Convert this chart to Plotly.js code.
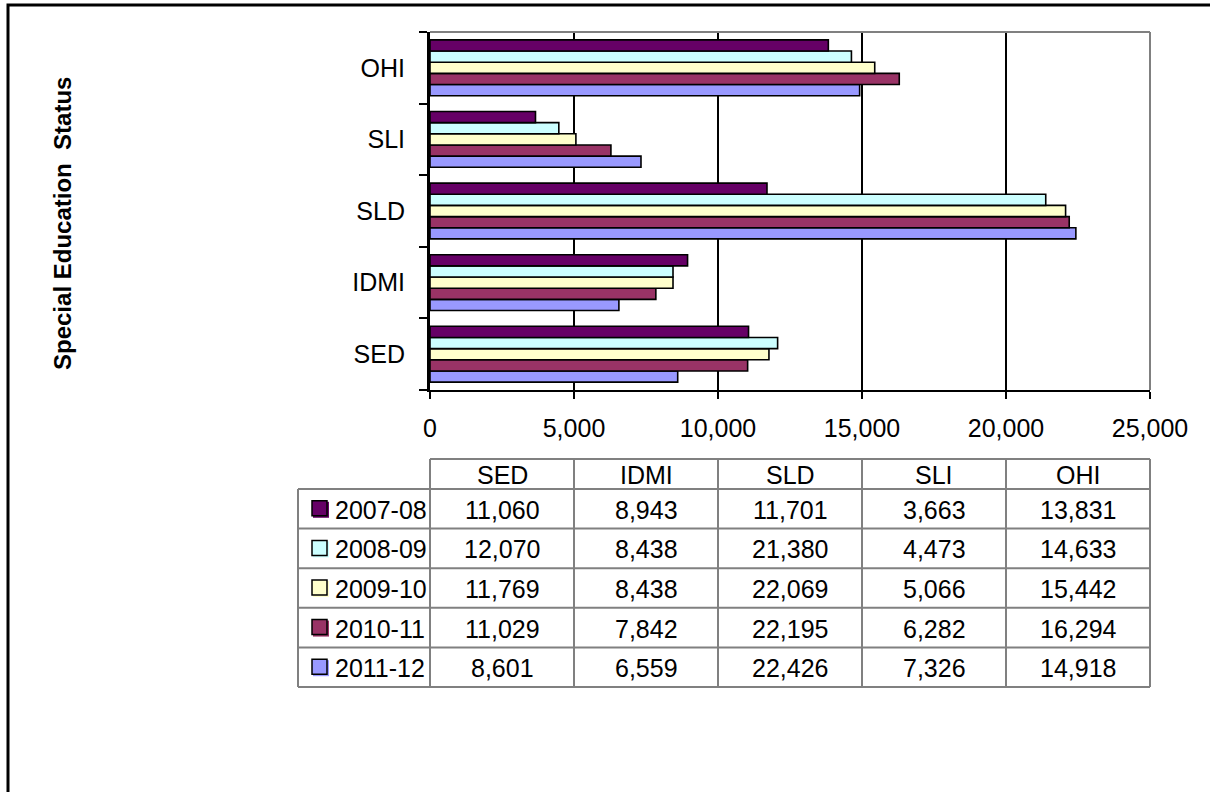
<!DOCTYPE html>
<html>
<head>
<meta charset="utf-8">
<script src="https://cdn.plot.ly/plotly-3.0.1.min.js"></script>
<style>html,body{margin:0;padding:0;background:#fff;}#chart{width:1210px;height:792px;}</style>
</head>
<body>
<div id="chart"></div>
<script>
// ---- data ----
const categories = ['SED', 'IDMI', 'SLD', 'SLI', 'OHI'];
const seriesNames = ['2007-08', '2008-09', '2009-10', '2010-11', '2011-12'];
const values2007 = [11060, 8943, 11701, 3663, 13831];
const values2008 = [12070, 8438, 21380, 4473, 14633];
const values2009 = [11769, 8438, 22069, 5066, 15442];
const values2010 = [11029, 7842, 22195, 6282, 16294];
const values2011 = [8601, 6559, 22426, 7326, 14918];
const seriesColors = ['#660066', '#CCFFFF', '#FFFFCC', '#993366', '#9999FF'];
const xTickValues = [0, 5000, 10000, 15000, 20000, 25000];
const yAxisTitle = 'Special Education  Status';

const seriesValues = [values2007, values2008, values2009, values2010, values2011];

// ---- geometry (pixels) ----
const W = 1210, H = 792;
const plotL = 430, plotR = 1150, plotT = 32, plotB = 390;
const px = x => (x - plotL) / (plotR - plotL);
const py = y => (plotB - y) / (plotB - plotT);
const FONT = 'Liberation Sans, Arial, sans-serif';
const FS = 25;

// traces: plotly stacks horizontal groups bottom-up, so add last series first
const traces = [];
for (let i = seriesNames.length - 1; i >= 0; i--) {
  traces.push({
    type: 'bar', orientation: 'h', name: seriesNames[i],
    y: categories, x: seriesValues[i],
    marker: {color: seriesColors[i], line: {color: '#000', width: 1.6}},
    hoverinfo: 'skip'
  });
}

const shapes = [];
const annotations = [];

// outer chart border (extends past the canvas on right/bottom)
shapes.push({type: 'rect', xref: 'paper', yref: 'paper', x0: px(8), x1: px(1240), y0: py(5), y1: py(830),
  line: {color: '#000', width: 3}, fillcolor: 'rgba(0,0,0,0)', layer: 'above'});
// gray plot-area border top & right
shapes.push({type: 'line', xref: 'paper', yref: 'paper', x0: 0, x1: 1, y0: 1, y1: 1, line: {color: '#808080', width: 2}, layer: 'above'});
shapes.push({type: 'line', xref: 'paper', yref: 'paper', x0: 1, x1: 1, y0: 0, y1: 1, line: {color: '#808080', width: 2}, layer: 'above'});

// data table
const colX = [298, 430, 574, 718, 862, 1006, 1150];
const rowY = [459, 489, 528.6, 568.2, 607.8, 647.4, 687];
const grid = {color: '#808080', width: 2};
for (let r = 0; r < rowY.length; r++) {
  const x0 = r === 0 ? colX[1] : colX[0];
  shapes.push({type: 'line', xref: 'paper', yref: 'paper', x0: px(x0), x1: px(colX[6]), y0: py(rowY[r]), y1: py(rowY[r]), line: grid});
}
for (let c = 0; c < colX.length; c++) {
  const y0 = c === 0 ? rowY[1] : rowY[0];
  shapes.push({type: 'line', xref: 'paper', yref: 'paper', x0: px(colX[c]), x1: px(colX[c]), y0: py(y0), y1: py(rowY[6]), line: grid});
}
for (let c = 0; c < categories.length; c++) {
  annotations.push({xref: 'paper', yref: 'paper', x: px((colX[c + 1] + colX[c + 2]) / 2), y: py((rowY[0] + rowY[1]) / 2 + 1),
    text: categories[c], showarrow: false, xanchor: 'center', yanchor: 'middle', font: {family: FONT, size: FS, color: '#000'}});
}
const fmt = v => v.toLocaleString('en-US');
for (let s = 0; s < seriesNames.length; s++) {
  const yc = (rowY[s + 1] + rowY[s + 2]) / 2;
  shapes.push({type: 'rect', xref: 'paper', yref: 'paper', x0: px(313), x1: px(329), y0: py(yc - 7), y1: py(yc + 9),
    line: {width: 0}, fillcolor: seriesColors[s]});
  shapes.push({type: 'rect', xref: 'paper', yref: 'paper', x0: px(312), x1: px(327), y0: py(yc - 8), y1: py(yc + 7),
    line: {color: '#000', width: 1.5}, fillcolor: seriesColors[s]});
  annotations.push({xref: 'paper', yref: 'paper', x: px(333), y: py(yc + 1),
    text: seriesNames[s], showarrow: false, xanchor: 'left', yanchor: 'middle', font: {family: FONT, size: FS, color: '#000'}});
  for (let c = 0; c < categories.length; c++) {
    annotations.push({xref: 'paper', yref: 'paper', x: px((colX[c + 1] + colX[c + 2]) / 2), y: py(yc + 1),
      text: fmt(seriesValues[s][c]), showarrow: false, xanchor: 'center', yanchor: 'middle', font: {family: FONT, size: FS, color: '#000'}});
  }
}
// y-axis title
annotations.push({xref: 'paper', yref: 'paper', x: px(62), y: py(224), text: '<b>' + yAxisTitle + '</b>', textangle: -90,
  showarrow: false, xanchor: 'center', yanchor: 'middle', font: {family: FONT, size: 24, color: '#000'}});

const layout = {
  width: W, height: H,
  margin: {l: plotL, r: W - plotR, t: plotT, b: H - plotB, pad: 0},
  paper_bgcolor: '#fff', plot_bgcolor: '#fff',
  font: {family: FONT, size: FS, color: '#000'},
  showlegend: false,
  barmode: 'group', bargap: 0.22, bargroupgap: 0,
  xaxis: {range: [0, 25000], tickvals: xTickValues, tickformat: ',d', showgrid: true, gridcolor: '#000', gridwidth: 1.5,
    zeroline: false, showline: true, linecolor: '#000', linewidth: 2, ticks: 'outside', ticklen: 7, tickwidth: 2, tickcolor: '#000',
    ticklabelstandoff: 8, tickfont: {family: FONT, size: FS, color: '#000'}, fixedrange: true},
  yaxis: {type: 'category', categoryorder: 'array', categoryarray: categories, tickson: 'boundaries', showgrid: false,
    zeroline: false, showline: true, linecolor: '#000', linewidth: 3, ticks: 'outside', ticklen: 8, tickwidth: 2, tickcolor: '#000',
    ticklabelstandoff: 17, tickfont: {family: FONT, size: FS, color: '#000'}, fixedrange: true},
  shapes: shapes, annotations: annotations
};

Plotly.newPlot('chart', traces, layout, {displayModeBar: false, staticPlot: true});
</script>
</body>
</html>
